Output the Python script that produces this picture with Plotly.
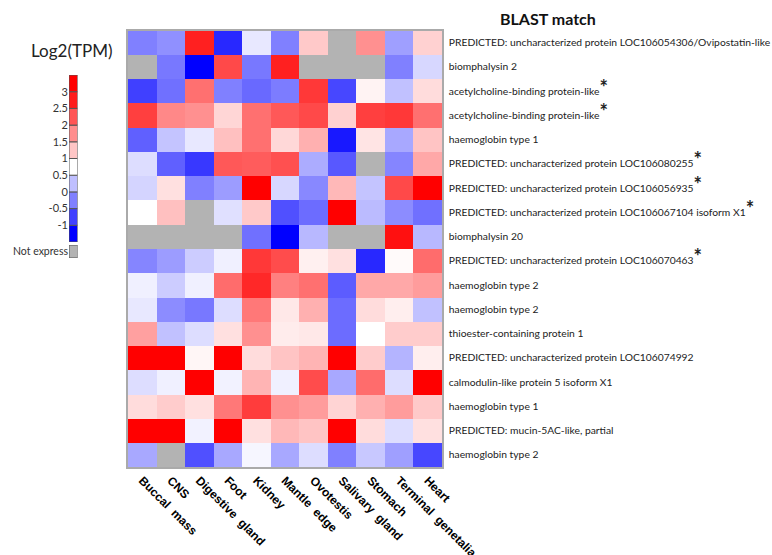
import plotly.graph_objects as go

tissues = ["Buccal mass", "CNS", "Digestive gland", "Foot", "Kidney", "Mantle edge",
           "Ovotestis", "Salivary gland", "Stomach", "Terminal genetalia", "Heart"]

genes = [
    "PREDICTED: uncharacterized protein LOC106054306/Ovipostatin-like",
    "biomphalysin 2",
    "acetylcholine-binding protein-like",
    "acetylcholine-binding protein-like",
    "haemoglobin type 1",
    "PREDICTED: uncharacterized protein LOC106080255",
    "PREDICTED: uncharacterized protein LOC106056935",
    "PREDICTED: uncharacterized protein LOC106067104 isoform X1",
    "biomphalysin 20",
    "PREDICTED: uncharacterized protein LOC106070463",
    "haemoglobin type 2",
    "haemoglobin type 2",
    "thioester-containing protein 1",
    "PREDICTED: uncharacterized protein LOC106074992",
    "calmodulin-like protein 5 isoform X1",
    "haemoglobin type 1",
    "PREDICTED: mucin-5AC-like, partial",
    "haemoglobin type 2",
]
starred = [False, False, True, True, False, True, True, True, False, True,
           False, False, False, False, False, False, False, False]

# Log2(TPM); None = not expressed
log2tpm = [
    [-0.25, -0.12, 2.72, -0.94, 0.57, -0.25, 1.23, None, 1.73, 0.00, 1.16],
    [None, -0.31, -1.25, 2.36, -0.31, 2.72, None, None, None, -0.25, 0.44],
    [-0.75, -0.37, 2.01, -0.25, -0.43, -0.28, 2.51, -0.69, 0.86, 0.26, 1.06],
    [2.44, 1.80, 1.73, 1.11, 2.01, 2.22, 2.36, 1.16, 2.44, 2.51, 2.01],
    [-0.50, 0.29, 0.57, 1.31, 2.01, 1.09, 1.45, -1.06, 0.99, 0.07, 1.27],
    [0.48, -0.50, -0.81, 2.22, 2.19, 2.29, 0.10, -0.56, None, -0.21, 1.52],
    [0.41, 1.02, -0.25, -0.03, 3.20, 0.44, -0.18, 1.38, 0.29, 2.36, 3.20],
    [0.75, 1.31, None, 0.51, 1.23, -0.62, -0.40, 3.20, 0.22, -0.15, -0.37],
    [None, None, None, None, -0.37, -1.25, 0.19, None, None, 2.86, 0.19],
    [-0.21, -0.03, 0.35, 0.63, 2.51, 2.33, 0.88, 1.02, -0.94, 0.79, 2.05],
    [0.63, 0.35, 0.63, 2.05, 2.65, 1.87, 2.01, -0.53, 1.52, 1.52, 1.62],
    [0.57, -0.15, -0.31, 0.48, 1.94, 0.95, 1.45, -0.40, 1.06, 0.90, 0.26],
    [1.59, 0.26, 0.48, 1.02, 1.73, 0.92, 0.95, -0.40, 0.75, 1.20, 1.20],
    [3.20, 3.20, 0.83, 3.20, 1.06, 1.27, 1.41, 3.20, 1.20, 0.16, 0.90],
    [0.48, 0.63, 3.20, 0.65, 1.41, 0.63, 2.33, 0.07, 2.05, 0.48, 3.20],
    [1.06, 1.20, 1.02, 1.94, 2.47, 1.73, 1.62, 1.13, 1.45, 1.62, 1.23],
    [3.20, 3.20, 0.65, 3.20, 1.02, 1.38, 1.27, 3.20, 1.06, 0.48, 1.02],
    [0.07, None, -0.62, 0.07, 0.68, 0.07, 0.48, -0.25, 0.32, 0.00, -0.69],
]

legend_edges = [-1.5, -1, -0.5, 0, 0.5, 1, 1.5, 2, 2.5, 3, 3.5]
legend_ticks = [-1, -0.5, 0, 0.5, 1, 1.5, 2, 2.5, 3]
legend_ticktext = ["-1", "-0.5", "0", "0.5", "1", "1.5", "2", "2.5", "3"]

ZMIN, ZMAX = -1.25, 3.0
WHITE_POS = (0.75 - ZMIN) / (ZMAX - ZMIN)
cscale = [[0, "#0000ff"], [WHITE_POS, "#ffffff"], [1, "#ff0000"]]
GRAY = "#b3b3b3"
FONT = "Lato"

W, H = 772, 555
def px_x(a, b):
    return [a / W, b / W]
def px_y(top, bottom):
    return [1 - bottom / H, 1 - top / H]

rows = list(range(len(genes)))
ticktext = [g + ("<b><span style='font-size:20px'>*</span></b>" if s else "")
            for g, s in zip(genes, starred)]
xticktext = [t.replace(" ", "&nbsp; ") for t in tissues]
mask = [[1 if v is None else None for v in r] for r in log2tpm]

fig = go.Figure()
fig.add_trace(go.Heatmap(z=mask, x=tissues, y=rows, colorscale=[[0, GRAY], [1, GRAY]],
                         showscale=False, hoverinfo="skip"))
fig.add_trace(go.Heatmap(z=log2tpm, x=tissues, y=rows, colorscale=cscale,
                         zmin=ZMIN, zmax=ZMAX, showscale=False))

# legend colour boxes
mids = [(a + b) / 2 for a, b in zip(legend_edges[:-1], legend_edges[1:])]
heights = [b - a for a, b in zip(legend_edges[:-1], legend_edges[1:])]
fig.add_trace(go.Bar(x=[0] * len(mids), y=heights, base=legend_edges[:-1], width=1,
                     marker=dict(color=mids, colorscale=cscale, cmin=ZMIN, cmax=ZMAX,
                                 line=dict(color="#555555", width=1)),
                     xaxis="x2", yaxis="y2", showlegend=False, hoverinfo="skip"))
fig.add_trace(go.Bar(x=[0], y=[1], base=[0], width=1,
                     marker=dict(color=GRAY, line=dict(color="#555555", width=1)),
                     xaxis="x3", yaxis="y3", showlegend=False, hoverinfo="skip"))

fig.update_layout(
    width=W, height=H, margin=dict(l=0, r=0, t=0, b=0),
    paper_bgcolor="white", plot_bgcolor="white", barmode="overlay",
    font=dict(family=FONT, color="#222222"),
    xaxis=dict(domain=px_x(128, 442), tickangle=45, ticks="", automargin=False,
               tickvals=tissues, ticktext=xticktext,
               tickfont=dict(size=12, color="black", weight="bold", family="Liberation Sans"),
               showline=True, mirror=True, linecolor="#aaaaaa", linewidth=1.5,
               showgrid=False),
    yaxis=dict(domain=px_y(30.5, 467), range=[len(genes) - 0.5, -0.5], side="right",
               tickvals=rows, ticktext=ticktext, ticks="outside", ticklen=3,
               tickcolor="rgba(0,0,0,0)", tickfont=dict(size=10.3, color="#222222"),
               showline=True, mirror=True, linecolor="#aaaaaa", linewidth=1.5,
               showgrid=False, zeroline=False, automargin=False),
    xaxis2=dict(domain=px_x(69, 77.5), range=[-0.5, 0.5], visible=False, automargin=False),
    yaxis2=dict(domain=px_y(75, 242), anchor="x2", range=[-1.5, 3.5],
                tickvals=legend_ticks, ticktext=legend_ticktext, ticks="",
                tickfont=dict(size=11, color="#333333"), showgrid=False, zeroline=False,
                showline=False, automargin=False),
    xaxis3=dict(domain=px_x(69, 77.5), range=[-0.5, 0.5], visible=False, anchor="y3",
                automargin=False),
    yaxis3=dict(domain=px_y(245, 258), anchor="x3", range=[0, 1], tickvals=[0.5],
                ticktext=["Not express"], ticks="", tickfont=dict(size=10.5, color="#333333"),
                showgrid=False, zeroline=False, showline=False, automargin=False),
    annotations=[
        dict(text="<b>BLAST match</b>", x=548 / W, y=1 - 19 / H, xref="paper", yref="paper",
             xanchor="center", yanchor="middle",
             showarrow=False, font=dict(size=16, color="#111111")),
        dict(text="Log2(TPM)", x=72 / W, y=1 - 51 / H, xref="paper", yref="paper",
             xanchor="center", yanchor="middle",
             showarrow=False, font=dict(size=17, color="#222222")),
    ],
)

fig.write_html("out.html", config={"displayModeBar": False},
               post_script="document.body.style.margin='0';")
